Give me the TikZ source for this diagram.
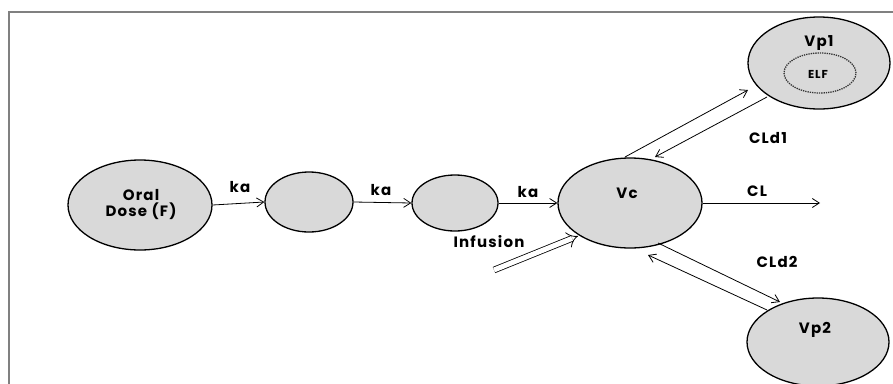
\documentclass[tikz,border=0pt]{standalone}
\usepackage{fontspec}
\setmainfont{Poppins}[LetterSpace=8]
\usetikzlibrary{arrows.meta,calc,shapes.geometric}
\definecolor{compfill}{HTML}{D9D9D9}
\definecolor{framegray}{HTML}{808080}
\tikzset{
  comp/.style={ellipse, draw=black, line width=1.3pt, fill=compfill, inner sep=0pt},
  flow/.style={line width=0.8pt, -{Straight Barb[length=7pt,width=9pt]}},
  lbl/.style={font=\bfseries\fontsize{15}{16}\selectfont, inner sep=0pt},
}
\begin{document}
\begin{tikzpicture}[x=1pt,y=-1pt]
\useasboundingbox (0,0) rectangle (893,383);
\draw[framegray, line width=2.5pt] (9,384) -- (9,12) -- (894,12);
% compartments
\node[comp, minimum width=144pt, minimum height=90pt] (oral) at (140,205) {};
\node[comp, minimum width=88pt, minimum height=60pt] (c2) at (309,202) {};
\node[comp, minimum width=86pt, minimum height=56pt] (c3) at (455,203) {};
\node[comp, minimum width=144pt, minimum height=90pt] (vc) at (630,203) {};
\node[comp, minimum width=142pt, minimum height=92pt] (vp1) at (819,63) {};
\node[comp, minimum width=142pt, minimum height=88pt] (vp2) at (818,342) {};
\node[ellipse, draw=black!80, densely dotted, line width=1.3pt, minimum width=72pt, minimum height=40pt] (elf) at (820,73) {};
% compartment texts
\node[lbl, align=center] (oraltxt) at (141,205) {Oral\\Dose (F)};
\node[lbl] (vctxt) at (627,193) {Vc};
\node[lbl] (vp1txt) at (819,43) {Vp1};
\node[lbl, font=\bfseries\fontsize{11.5}{13}\selectfont] (elftxt) at (818,74) {ELF};
\node[lbl] (vp2txt) at (815,330) {Vp2};
% free ends
\coordinate (clend) at (820,203);
\coordinate (infstart) at (494,270);
% connectors
\draw[flow] (oral.east) -- (c2.west);
\draw[flow] (c2.east) -- (c3.west);
\draw[flow] (c3.east) -- (vc.west);
\draw[flow] (vc.east) -- (clend);
\draw[line width=0.8pt, double distance=5pt, -{Implies[length=7pt]}] (infstart) -- ($(vc)+(-52,33)$);
\draw[flow] ($(vc)+(-5,-46)$) -- ($(vp1)+(-71,27)$);
\draw[flow] ($(vp1)+(-52,34)$) -- ($(vc)+(25,-46)$);
\draw[flow] ($(vc)+(28,40)$) -- ($(vp2)+(-38,-40)$);
\draw[flow] ($(vp2)+(-51,-32)$) -- ($(vc)+(18,52)$);
% labels
\node[lbl] (ka1) at (240,187) {ka};
\node[lbl] (ka2) at (381,190) {ka};
\node[lbl] (ka3) at (528,192) {ka};
\node[lbl] (cl) at (757,191) {CL};
\node[lbl] (cld1) at (768,138) {CLd1};
\node[lbl] (cld2) at (777,262) {CLd2};
\node[lbl] (inf) at (489,242) {Infusion};
\end{tikzpicture}
\end{document}
